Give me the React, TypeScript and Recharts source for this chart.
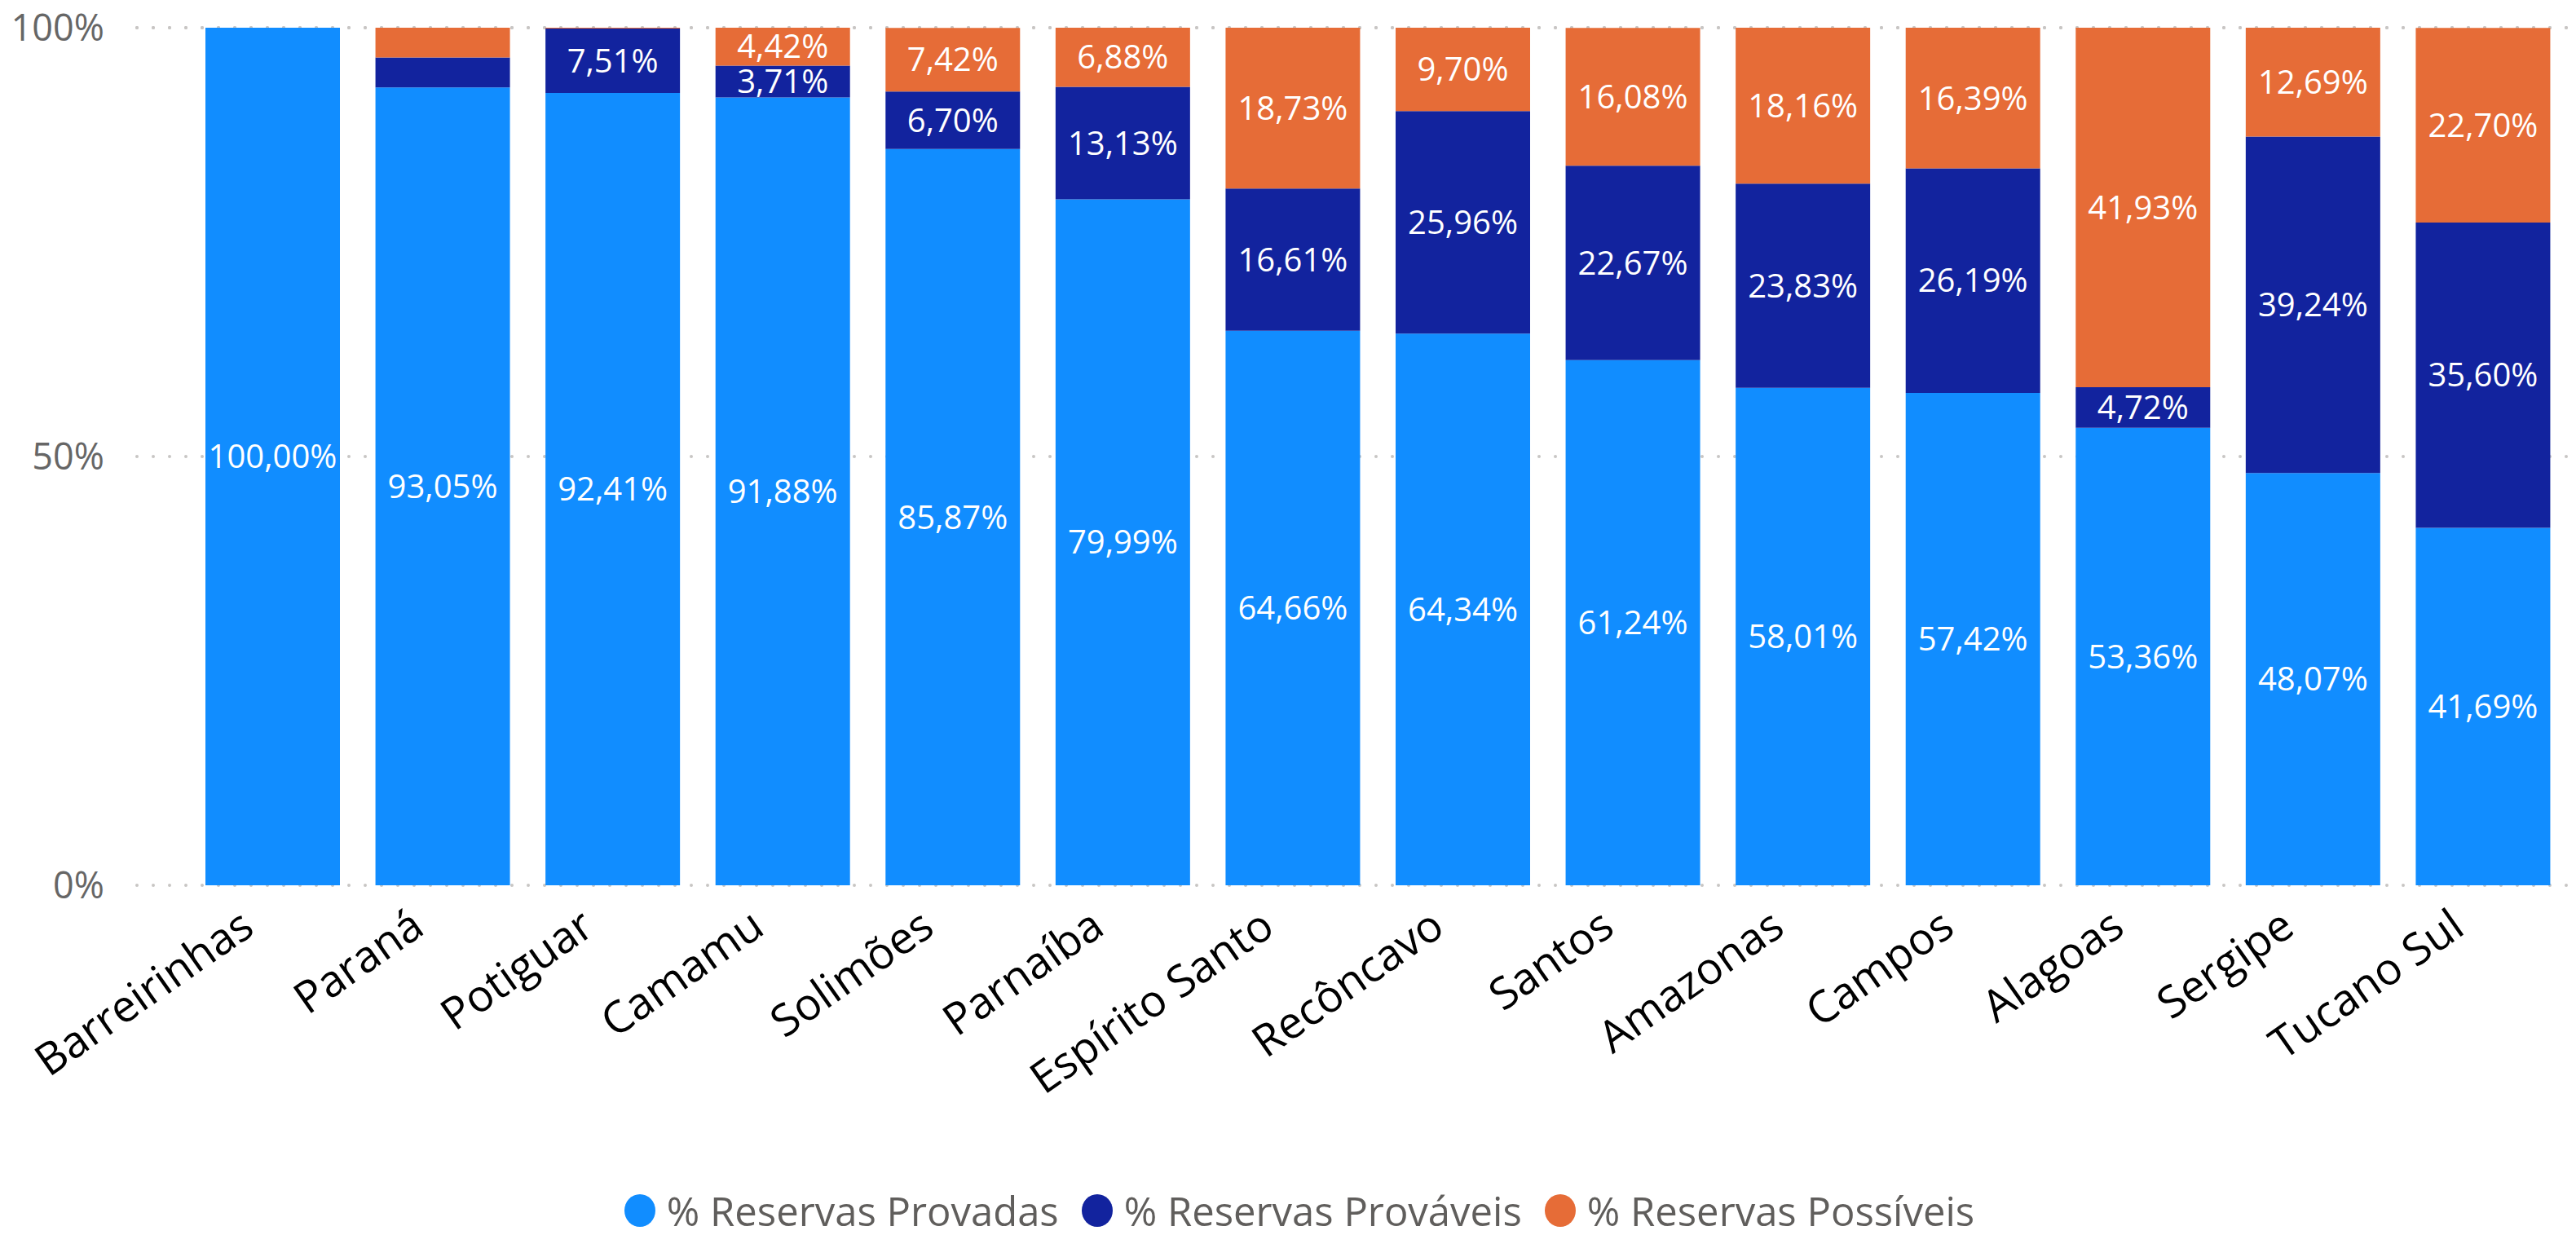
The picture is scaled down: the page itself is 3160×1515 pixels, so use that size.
import { BarChart, Bar, XAxis, YAxis, CartesianGrid, Legend, LabelList } from 'recharts';

const FONT = '"Open Sans", "Noto Sans", sans-serif';

const bacias = [
  'Barreirinhas', 'Paraná', 'Potiguar', 'Camamu', 'Solimões', 'Parnaíba', 'Espírito Santo',
  'Recôncavo', 'Santos', 'Amazonas', 'Campos', 'Alagoas', 'Sergipe', 'Tucano Sul',
];
const provadas = [100.0, 93.05, 92.41, 91.88, 85.87, 79.99, 64.66, 64.34, 61.24, 58.01, 57.42, 53.36, 48.07, 41.69];
const provaveis = [0, 3.48, 7.51, 3.71, 6.7, 13.13, 16.61, 25.96, 22.67, 23.83, 26.19, 4.72, 39.24, 35.6];
const possiveis = [0, 3.47, 0.08, 4.42, 7.42, 6.88, 18.73, 9.7, 16.08, 18.16, 16.39, 41.93, 12.69, 22.7];
const yTicks = [0, 50, 100];

const series = [
  { key: 'provadas', name: '% Reservas Provadas', color: '#118DFF' },
  { key: 'provaveis', name: '% Reservas Prováveis', color: '#12239E' },
  { key: 'possiveis', name: '% Reservas Possíveis', color: '#E66C37' },
];

const data = bacias.map((name, i) => ({
  name,
  provadas: provadas[i],
  provaveis: provaveis[i],
  possiveis: possiveis[i],
}));

// labels that don't fit in their segment are hidden, like the original
const fmtLabel = (v: any) => {
  const n = Number(v);
  if (!n || n < 3.6) return '';
  return `${n.toFixed(2).replace('.', ',')}%`;
};

function XTick({ x, y, payload }: any) {
  return (
    <g transform={`translate(${x - 42},${y + 26})`}>
      <text
        transform="rotate(-35)"
        textAnchor="end"
        dy="0.72em"
        fill="#000"
        fontSize={54}
        fontFamily={FONT}
      >
        {payload.value}
      </text>
    </g>
  );
}

// legend keeps the series order (provadas, prováveis, possíveis)
function LegendBox() {
  return (
    <div
      style={{
        display: 'flex',
        justifyContent: 'center',
        alignItems: 'center',
        height: 60,
        paddingLeft: 28,
        fontFamily: FONT,
        fontSize: 49,
        color: '#605E5C',
      }}
    >
      {series.map((s, i) => (
        <div key={s.key} style={{ display: 'flex', alignItems: 'center', marginRight: i < series.length - 1 ? 28 : 0 }}>
          <span
            style={{
              display: 'inline-block',
              width: 38,
              height: 40,
              borderRadius: '50%',
              background: s.color,
              marginRight: 14,
            }}
          />
          <span style={{ whiteSpace: 'nowrap' }}>{s.name}</span>
        </div>
      ))}
    </div>
  );
}

export default function App() {
  return (
    <div style={{ position: 'fixed', left: 0, top: 0, width: 3160, height: 1515, background: '#fff' }}>
      <BarChart width={3160} height={1515} data={data} margin={{ top: 34, right: 10, left: 0, bottom: 0 }}>
        <CartesianGrid
          vertical={false}
          stroke="#C8C6C4"
          strokeWidth={4}
          strokeDasharray="0 20"
          strokeLinecap="round"
        />
        <XAxis
          dataKey="name"
          interval={0}
          axisLine={false}
          tickLine={false}
          tickSize={0}
          tickMargin={0}
          height={369}
          padding={{ left: 62, right: 0 }}
          tick={<XTick />}
        />
        <YAxis
          width={168}
          domain={[0, 100]}
          ticks={yTicks}
          axisLine={false}
          tickLine={false}
          tickSize={0}
          tickMargin={40}
          tickFormatter={(v: number) => `${v}%`}
          tick={{ fill: '#666666', fontSize: 45, fontFamily: FONT }}
        />
        <Legend verticalAlign="bottom" wrapperStyle={{ left: 0, width: 3160 }} content={<LegendBox />} />
        {series.map((s) => (
          <Bar key={s.key} dataKey={s.key} name={s.name} stackId="a" fill={s.color} barSize={165} isAnimationActive={false}>
            <LabelList
              dataKey={s.key}
              position="center"
              formatter={fmtLabel}
              fill="#FFFFFF"
              fontSize={40}
              fontFamily={FONT}
            />
          </Bar>
        ))}
      </BarChart>
    </div>
  );
}
